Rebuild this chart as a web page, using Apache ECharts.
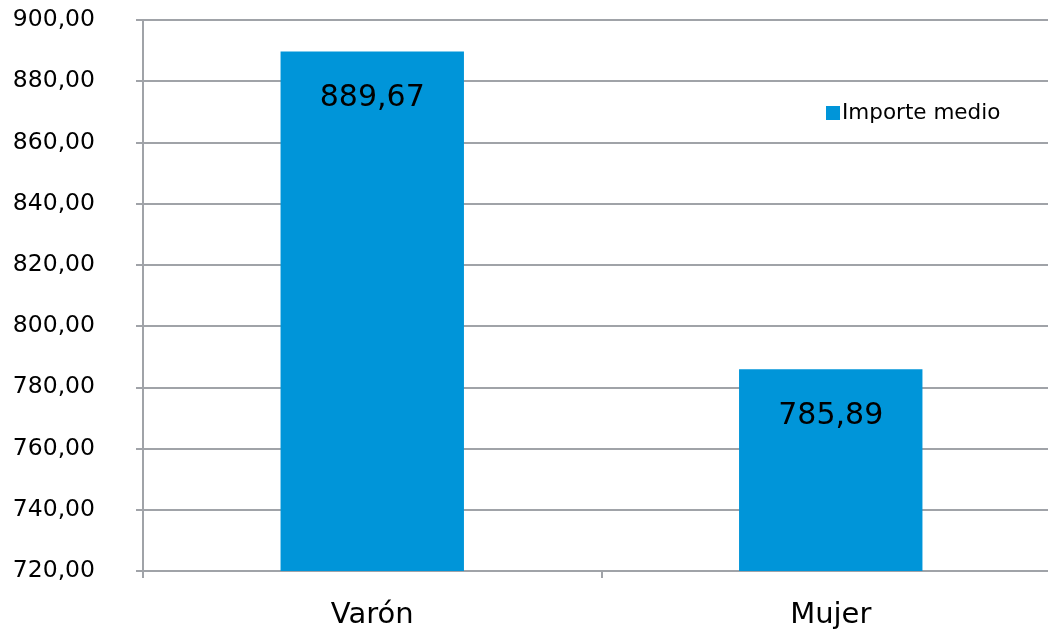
<!DOCTYPE html>
<html><head><meta charset="utf-8">
<script src="https://cdn.jsdelivr.net/npm/echarts@6/dist/echarts.min.js"></script>
<style>html,body{margin:0;padding:0;background:#fff}#c{width:1048px;height:633px}</style>
</head><body><div id="c"></div>
<script>
var categories = ['Varón', 'Mujer'];
var seriesName = 'Importe medio';
var values = [889.67, 785.89];
var yMin = 720, yMax = 900, yStep = 20;
function fmt(v){ return v.toFixed(2).replace('.', ','); }
var chart = echarts.init(document.getElementById('c'));
var font = '"DejaVu Sans", sans-serif';
chart.setOption({
  animation: false,
  textStyle: { fontFamily: font },
  grid: { left: 143, top: 20, bottom: 62, right: -12, outerBoundsMode: 'none', containLabel: false },
  legend: {
    left: 821, top: 97, itemWidth: 14, itemHeight: 14, itemGap: 5,
    icon: 'rect',
    textStyle: { fontSize: 21.5, color: '#000', fontFamily: font, padding: [0,0,0,-3] },
    data: [seriesName]
  },
  xAxis: {
    type: 'category', data: categories,
    axisLine: { lineStyle: { color: '#a0a3a8', width: 2 } },
    axisTick: { show: true, length: 7, lineStyle: { color: '#a0a3a8', width: 2 } },
    axisLabel: { fontSize: 29, color: '#000', margin: 30, fontFamily: font }
  },
  yAxis: {
    type: 'value', min: yMin, max: yMax, interval: yStep,
    axisLine: { show: true, lineStyle: { color: '#a0a3a8', width: 2 } },
    axisTick: { show: true, length: 7, lineStyle: { color: '#a0a3a8', width: 2 } },
    splitLine: { lineStyle: { color: '#a0a3a8', width: 2 } },
    axisLabel: { fontSize: 23.5, color: '#000', margin: 48, fontFamily: font, padding: [6,0,0,0], formatter: function(v){ return fmt(v); } }
  },
  series: [{
    name: seriesName, type: 'bar', data: values, barWidth: '40%',
    itemStyle: { color: '#0095d9' },
    label: { show: true, position: 'insideTop', distance: 32, fontSize: 30, color: '#000', fontFamily: font,
      formatter: function(p){ return fmt(p.value); } }
  }]
});
</script></body></html>
